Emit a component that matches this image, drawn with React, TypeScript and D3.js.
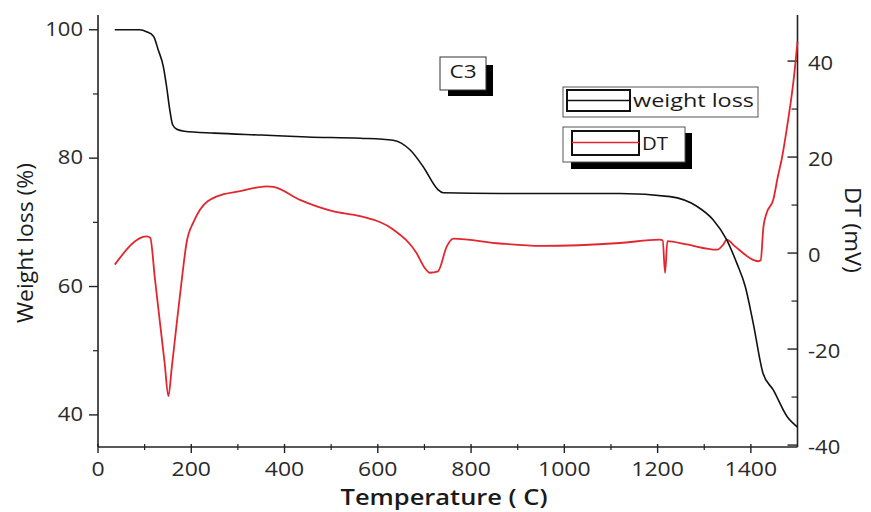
import React from "react";
import * as d3 from "d3";

// Weight loss (%) vs Temperature (°C)
const wT = [36, 90, 104, 119, 129, 140, 147, 154, 160, 169, 185, 250, 350, 450, 562, 633, 669, 697, 729, 740, 862, 1000, 1119, 1227, 1284, 1319, 1348, 1370, 1388, 1405, 1426, 1448, 1478, 1500];
const wV = [100, 100, 99.7, 99, 96.9, 94.3, 91.2, 87.5, 85.2, 84.5, 84.2, 83.9, 83.6, 83.3, 83.1, 82.8, 81.3, 78.7, 75.1, 74.6, 74.5, 74.5, 74.5, 74, 72.5, 70.4, 67.3, 63.6, 60, 54.3, 46.5, 43.9, 39.7, 38.1];

// DT (mV) vs Temperature
const dT = [36, 104, 112, 122, 133, 143, 151, 158, 169, 179, 190, 205, 219, 255, 305, 362, 376, 433, 505, 562, 633, 683, 700, 712, 729, 748, 762, 862, 950, 1119, 1205, 1211, 1216, 1221, 1262, 1327, 1341, 1348, 1366, 1405, 1416, 1421, 1427, 1434, 1448, 1458, 1466, 1480, 1491, 1500];
const dV = [-2.4, 3.5, 3.2, -5.3, -14.6, -23, -29.8, -24, -14.5, -6.1, 2.2, 6.5, 9.1, 11.8, 12.9, 13.9, 13.8, 11.1, 8.7, 7.7, 4.9, 0, -3, -4.1, -3.8, 1.4, 3, 2, 1.5, 2.1, 2.8, 2.6, -4.1, 2.5, 1.8, 0.7, 1.8, 2.8, 1.4, -1.4, -1.7, -1.5, 5.5, 8.4, 11.1, 16, 19.5, 27.8, 35.5, 44];

const xTicks = [0, 200, 400, 600, 800, 1000, 1200, 1400];
const xMinor = [100, 300, 500, 700, 900, 1100, 1300];
const yLTicks = [40, 60, 80, 100];
const yLMinor = [50, 70, 90];
const yRTicks = [-40, -20, 0, 20, 40];
const yRMinor = [-30, -10, 10, 30];

const FONT = "'Open Sans', 'DejaVu Sans', sans-serif";

function SText(props: any) {
  const { x, y, sx = 1.15, rot = 0, children, ...rest } = props;
  return (
    <text transform={`translate(${x},${y}) rotate(${rot}) scale(${sx},1)`} fontFamily={FONT} {...rest}>
      {children}
    </text>
  );
}

export default function App() {
  const W = 871, H = 512;
  const x = d3.scaleLinear().domain([0, 1500]).range([98, 797.5]);
  const yL = d3.scaleLinear().domain([35, 102.3]).range([447, 15]);
  const yR = d3.scaleLinear().domain([-40.4, 49.6]).range([447, 15]);

  const wData = wT.map((t, i) => [t, wV[i]] as [number, number]);
  const dData = dT.map((t, i) => [t, dV[i]] as [number, number]);

  const wLine = d3.line<[number, number]>().x(d => x(d[0])).y(d => yL(d[1])).curve(d3.curveMonotoneX);
  const dLine = d3.line<[number, number]>().x(d => x(d[0])).y(d => yR(d[1])).curve(d3.curveMonotoneX);

  const axisColor = "#222";
  const x0 = x(0), x1 = x(1500), yB = yL(35), yT = 15;

  return (
    <svg width={W} height={H} style={{ position: "absolute", left: 0, top: 0, background: "#fff" }}>
      <rect x={0} y={0} width={W} height={H} fill="#fff" />
      {/* axes lines */}
      <line x1={x0} x2={x0} y1={yT} y2={yB} stroke={axisColor} strokeWidth={1.6} />
      <line x1={x1} x2={x1} y1={yT} y2={yB} stroke={axisColor} strokeWidth={1.6} />
      <line x1={x0} x2={x1} y1={yB} y2={yB} stroke={axisColor} strokeWidth={1.6} />

      {/* bottom ticks */}
      {xTicks.map(t => (
        <g key={"xt" + t}>
          <line x1={x(t)} x2={x(t)} y1={yB - 3} y2={yB + 6} stroke={axisColor} strokeWidth={1.4} />
          <SText x={x(t)} y={476} textAnchor="middle" fontSize={20} fontWeight={500} fill="#2a2a2a" sx={1.15}>{t}</SText>
        </g>
      ))}
      {xMinor.map(t => (
        <line key={"xm" + t} x1={x(t)} x2={x(t)} y1={yB - 3} y2={yB + 3} stroke={axisColor} strokeWidth={1.2} />
      ))}

      {/* left ticks */}
      {yLTicks.map(v => (
        <g key={"yl" + v}>
          <line x1={x0 - 9} x2={x0} y1={yL(v)} y2={yL(v)} stroke={axisColor} strokeWidth={1.4} />
          <SText x={83} y={yL(v) - 1} dy="0.35em" textAnchor="end" fontSize={20} fontWeight={500} fill="#2a2a2a" sx={1.1}>{v}</SText>
        </g>
      ))}
      {yLMinor.map(v => (
        <line key={"ylm" + v} x1={x0 - 5} x2={x0} y1={yL(v)} y2={yL(v)} stroke={axisColor} strokeWidth={1.2} />
      ))}

      {/* right ticks */}
      {yRTicks.map(v => (
        <g key={"yr" + v}>
          <line x1={x1 - 10} x2={x1} y1={yR(v)} y2={yR(v)} stroke={axisColor} strokeWidth={1.4} />
          <SText x={808} y={yR(v) + 2} dy="0.35em" textAnchor="start" fontSize={20} fontWeight={500} fill="#2a2a2a" sx={1.1}>{v}</SText>
        </g>
      ))}
      {yRMinor.map(v => (
        <line key={"yrm" + v} x1={x1 - 6} x2={x1} y1={yR(v)} y2={yR(v)} stroke={axisColor} strokeWidth={1.2} />
      ))}

      {/* axis titles */}
      <text x={444} y={505} textAnchor="middle" fontFamily={FONT} fontSize={22} fontWeight={600} fill="#1a1a1a" textLength={207} lengthAdjust="spacingAndGlyphs">Temperature ( C)</text>
      <text transform={`translate(33,243) rotate(-90)`} textAnchor="middle" fontFamily={FONT} fontSize={22} fontWeight={500} fill="#1a1a1a" textLength={160} lengthAdjust="spacingAndGlyphs">Weight loss (%)</text>
      <text transform={`translate(845,230) rotate(90)`} textAnchor="middle" fontFamily={FONT} fontSize={22} fontWeight={500} fill="#1a1a1a" textLength={86} lengthAdjust="spacingAndGlyphs">DT (mV)</text>

      {/* curves */}
      <path d={dLine(dData) || ""} fill="none" stroke="#e3262e" strokeWidth={1.8} strokeLinejoin="round" />
      <path d={wLine(wData) || ""} fill="none" stroke="#111" strokeWidth={1.6} strokeLinejoin="round" />

      {/* C3 label */}
      <rect x={448} y={65} width={45} height={31} fill="#000" />
      <rect x={440} y={57} width={46} height={33} fill="#fff" stroke="#333" strokeWidth={1} />
      <text x={463} y={78} textAnchor="middle" fontFamily={FONT} fontSize={18} fill="#1a1a1a" textLength={27} lengthAdjust="spacingAndGlyphs">C3</text>

      {/* legend: weight loss */}
      <rect x={563} y={87} width={195} height={30} fill="#fff" stroke="#555" strokeWidth={1} />
      <rect x={567} y={90} width={63} height={21} fill="#fff" stroke="#111" strokeWidth={2} />
      <line x1={567} x2={630} y1={100.5} y2={100.5} stroke="#111" strokeWidth={1.5} />
      <text x={633} y={107} fontFamily={FONT} fontSize={19} fill="#1a1a1a" textLength={121} lengthAdjust="spacingAndGlyphs">weight loss</text>

      {/* legend: DT */}
      <rect x={571} y={133} width={121} height={36} fill="#000" />
      <rect x={563} y={127} width={122} height={35} fill="#fff" stroke="#555" strokeWidth={1} />
      <rect x={572} y={131} width={67} height={24} fill="#fff" stroke="#111" strokeWidth={2} />
      <line x1={572} x2={639} y1={142.5} y2={142.5} stroke="#e3262e" strokeWidth={1.5} />
      <text x={642} y={150} fontFamily={FONT} fontSize={19} fill="#1a1a1a" textLength={26} lengthAdjust="spacingAndGlyphs">DT</text>
    </svg>
  );
}
